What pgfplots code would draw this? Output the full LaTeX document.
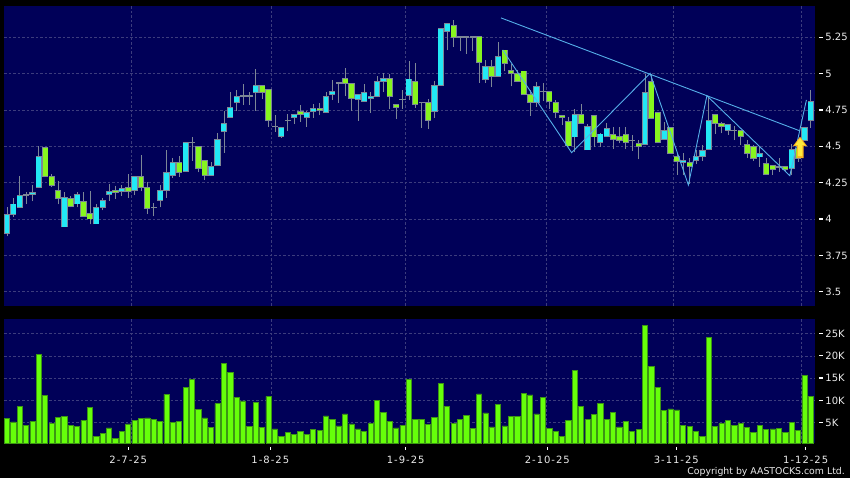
\documentclass[border=0pt]{standalone}
\usepackage{fontspec}
\setmainfont{DejaVu Sans}
\usepackage{pgfplots}
\usepackage{pgfplotstable}
\pgfplotsset{compat=1.18}
\definecolor{panel}{RGB}{0,0,88}
\definecolor{gridc}{RGB}{60,60,125}
\definecolor{upc}{RGB}{34,232,245}
\definecolor{dnc}{RGB}{135,245,30}
\definecolor{wick}{RGB}{125,135,150}
\definecolor{volc}{RGB}{102,255,10}
\definecolor{vold}{RGB}{60,150,20}
\definecolor{trend}{RGB}{85,175,232}
\definecolor{tickc}{RGB}{235,235,235}
\definecolor{arrowout}{RGB}{250,180,30}
\definecolor{arrowin}{RGB}{255,235,60}

% k: 0 up, 1 down, 2 doji; l low, b body bottom, t body top, h high
\pgfplotstableread{
i k l b t h
0 0 3.881 3.902 4.034 4.082
1 0 4.014 4.032 4.103 4.144
2 0 4.082 4.082 4.164 4.297
3 2 4.105 4.162 4.166 4.187
4 0 4.121 4.171 4.185 4.235
5 0 4.219 4.219 4.432 4.502
6 1 4.295 4.295 4.493 4.498
7 1 4.219 4.233 4.295 4.308
8 1 4.100 4.144 4.199 4.263
9 0 3.945 3.945 4.148 4.187
10 1 4.080 4.087 4.144 4.155
11 0 4.080 4.103 4.171 4.183
12 1 4.014 4.018 4.123 4.187
13 1 3.963 4.000 4.041 4.194
14 0 3.966 3.966 4.082 4.103
15 0 4.059 4.080 4.130 4.144
16 0 4.126 4.171 4.192 4.242
17 1 4.139 4.185 4.199 4.224
18 0 4.160 4.192 4.212 4.235
19 1 4.146 4.192 4.219 4.311
20 0 4.162 4.199 4.295 4.299
21 1 4.190 4.215 4.295 4.441
22 1 4.037 4.075 4.219 4.253
23 2 4.018 4.078 4.082 4.110
24 0 4.080 4.128 4.199 4.231
25 0 4.146 4.199 4.322 4.475
26 0 4.281 4.301 4.390 4.420
27 1 4.292 4.322 4.390 4.432
28 0 4.329 4.329 4.525 4.527
29 2 4.400 4.523 4.527 4.562
30 1 4.320 4.349 4.500 4.500
31 1 4.269 4.301 4.402 4.404
32 0 4.301 4.301 4.361 4.395
33 0 4.370 4.370 4.548 4.589
34 0 4.457 4.600 4.658 4.744
35 0 4.699 4.699 4.767 4.874
36 0 4.744 4.799 4.842 4.890
37 2 4.783 4.843 4.847 4.932
38 2 4.783 4.843 4.847 4.874
39 0 4.744 4.868 4.918 5.030
40 1 4.824 4.870 4.918 4.918
41 1 4.635 4.676 4.890 4.890
42 2 4.598 4.633 4.637 4.715
43 0 4.559 4.566 4.630 4.635
44 2 4.605 4.676 4.680 4.719
45 0 4.653 4.699 4.719 4.719
46 1 4.667 4.717 4.740 4.781
47 0 4.635 4.699 4.733 4.744
48 0 4.694 4.737 4.760 4.788
49 1 4.712 4.747 4.760 4.801
50 0 4.733 4.733 4.842 4.874
51 0 4.817 4.856 4.877 4.959
52 2 4.799 4.934 4.938 4.938
53 1 4.845 4.934 4.966 5.041
54 1 4.744 4.829 4.931 4.931
55 0 4.676 4.822 4.854 4.854
56 0 4.808 4.808 4.868 4.931
57 0 4.731 4.826 4.842 4.874
58 0 4.842 4.842 4.943 4.982
59 0 4.872 4.945 4.966 5.007
60 1 4.756 4.842 4.966 5.000
61 1 4.687 4.765 4.788 4.788
62 2 4.758 4.820 4.824 4.890
63 0 4.817 4.849 4.963 5.090
64 1 4.763 4.788 4.943 5.075
65 2 4.628 4.799 4.803 4.803
66 1 4.621 4.678 4.799 4.824
67 0 4.696 4.737 4.918 4.948
68 0 4.918 4.918 5.308 5.308
69 0 5.160 5.290 5.347 5.347
70 1 5.183 5.247 5.333 5.370
71 2 5.153 5.251 5.255 5.255
72 2 5.137 5.251 5.255 5.255
73 2 5.155 5.251 5.255 5.255
74 1 4.936 5.075 5.258 5.258
75 0 4.936 4.959 5.046 5.091
76 1 4.909 4.980 5.046 5.091
77 0 4.980 4.980 5.116 5.217
78 1 5.016 5.069 5.162 5.162
79 1 4.913 4.998 5.021 5.069
80 1 4.943 4.945 5.000 5.023
81 1 4.854 4.854 5.018 5.018
82 1 4.710 4.801 4.854 4.886
83 0 4.772 4.804 4.911 4.945
84 2 4.811 4.875 4.879 4.938
85 1 4.756 4.808 4.877 4.877
86 1 4.696 4.733 4.801 4.817
87 1 4.646 4.696 4.712 4.712
88 1 4.502 4.502 4.669 4.703
89 0 4.464 4.564 4.717 4.760
90 1 4.655 4.655 4.717 4.790
91 0 4.475 4.475 4.635 4.653
92 1 4.498 4.564 4.710 4.710
93 0 4.498 4.527 4.585 4.589
94 0 4.566 4.566 4.623 4.658
95 1 4.480 4.548 4.580 4.635
96 1 4.521 4.541 4.566 4.630
97 1 4.479 4.527 4.580 4.630
98 2 4.470 4.537 4.541 4.578
99 1 4.411 4.498 4.518 4.543
100 0 4.511 4.511 4.870 5.000
101 1 4.690 4.690 4.943 5.000
102 1 4.525 4.525 4.731 4.731
103 0 4.543 4.546 4.610 4.669
104 1 4.452 4.452 4.628 4.628
105 1 4.306 4.393 4.429 4.457
106 0 4.304 4.388 4.402 4.457
107 1 4.240 4.361 4.390 4.418
108 0 4.379 4.404 4.429 4.475
109 0 4.400 4.429 4.473 4.507
110 0 4.479 4.479 4.676 4.847
111 1 4.584 4.658 4.719 4.719
112 1 4.589 4.635 4.658 4.669
113 0 4.578 4.610 4.651 4.651
114 2 4.543 4.605 4.609 4.642
115 1 4.509 4.568 4.610 4.610
116 1 4.418 4.450 4.511 4.543
117 1 4.402 4.416 4.500 4.509
118 0 4.361 4.427 4.450 4.498
119 1 4.308 4.308 4.384 4.418
120 1 4.306 4.340 4.368 4.368
121 2 4.326 4.356 4.360 4.418
122 1 4.326 4.340 4.363 4.363
123 0 4.304 4.347 4.479 4.516
124 1 4.393 4.418 4.486 4.502
125 0 4.539 4.539 4.630 4.635
126 0 4.626 4.676 4.808 4.890
}\candles

\pgfplotsset{chartpanel/.style={
  scale only axis, width=810.7pt,
  anchor=south west,
  xmin=-0.47, xmax=126.6,
  axis background/.style={fill=panel},
  axis line style={draw=none},
  xtick={19.48,41.43,62.43,84.59,104.44,124.56},
  xticklabels={},
  xmajorgrids, ymajorgrids,
  major grid style={gridc,line width=0.7pt,dash pattern=on 2.5pt off 2pt},
  xtick style={draw=none},
  xtick pos=bottom,
  ytick pos=right,
  yticklabel pos=right,
  tick align=outside,
  major tick length=3pt,
  ytick style={draw=none},
  tick label style={font=\fontsize{10}{12}\selectfont,text=tickc},
  yticklabel style={anchor=west,xshift=4.2pt},
},
bodystyle/.style n args={2}{draw=none,no markers,forget plot,error bars/.cd,y dir=plus,y explicit,
  error mark=none,error bar style={line width=#1,draw=#2,solid}},
}

\begin{document}
\begin{tikzpicture}[x=1pt,y=1pt]
\fill[black] (0,0) rectangle (850,478);
\useasboundingbox (0,0) rectangle (850,478);

\begin{axis}[chartpanel, at={(4pt,172pt)}, height=300pt,
  ymin=3.402, ymax=5.465, unbounded coords=discard,
  ytick={3.5,3.75,4,4.25,4.5,4.75,5,5.25},
  yticklabels={3.5,3.75,4,4.25,4.5,4.75,5,5.25}]
% wicks, body outlines, then body fills
\addplot[bodystyle={0.8pt}{wick}] table[x=i,y=l,y error plus expr=\thisrow{h}-\thisrow{l}] {\candles};
\addplot[bodystyle={6.2pt}{wick}] table[x=i,y expr=\thisrow{b}-0.003,y error plus expr=\thisrow{t}-\thisrow{b}+0.006] {\candles};
\addplot[bodystyle={4.9pt}{upc}] table[x=i,y expr={\thisrow{k}==0 ? \thisrow{b}+0.003 : nan},y error plus expr=\thisrow{t}-\thisrow{b}-0.006] {\candles};
\addplot[bodystyle={4.9pt}{dnc}] table[x=i,y expr={\thisrow{k}==1 ? \thisrow{b}+0.003 : nan},y error plus expr=\thisrow{t}-\thisrow{b}-0.006] {\candles};
% trend lines
\addplot[trend,line width=0.9pt] coordinates {(77.43,5.383)(124.3,4.606)};
\addplot[trend,line width=0.9pt] coordinates {(77.7,5.163)(88.5,4.456)(100.8,5.002)(106.8,4.234)(109.7,4.848)(122.7,4.298)(125.3,4.819)};
% signal arrow
\addplot[fill=arrowout,draw=none] coordinates {(124.3,4.566)(123.2,4.502)(123.8,4.502)(123.8,4.418)(124.85,4.418)(124.85,4.502)(125.4,4.502)} --cycle;
\addplot[fill=arrowin,draw=none] coordinates {(124.3,4.556)(123.55,4.510)(123.97,4.510)(123.97,4.432)(124.68,4.432)(124.68,4.510)(125.05,4.510)} --cycle;
\end{axis}

\begin{axis}[chartpanel, at={(4pt,34.5pt)}, height=124.5pt,
  ymin=337, ymax=28312,
  scaled y ticks=false,
  ytick={5000,10000,15000,20000,25000},
  yticklabels={5K,10K,15K,20K,25K},
  extra x ticks={19.01,41.27,62.49,84.69,104.91,125.19},
  extra x tick labels={2-7-25,1-8-25,1-9-25,2-10-25,3-11-25,1-12-25},
  extra x tick style={grid=none,major tick length=2.5pt,
    xticklabel style={yshift=-7pt,font=\fontsize{10}{12}\selectfont\addfontfeature{LetterSpace=10}}}]
\addplot[ybar,bar width=5.2pt,fill=volc,draw=vold,line width=0.8pt] table[row sep=\\] {
x y\\
0 5920\\ 1 5170\\ 2 8610\\ 3 4490\\ 4 5320\\ 5 20370\\ 6 11160\\ 7 4790\\ 8 6220\\ 9 6440\\
10 4490\\ 11 4120\\ 12 5540\\ 13 8460\\ 14 2020\\ 15 2620\\ 16 3820\\ 17 1570\\ 18 3070\\ 19 4720\\
20 5540\\ 21 5920\\ 22 6070\\ 23 5840\\ 24 5240\\ 25 11390\\ 26 5020\\ 27 5390\\ 28 12960\\ 29 14760\\
30 8010\\ 31 6070\\ 32 3900\\ 33 9290\\ 34 18350\\ 35 16330\\ 36 10710\\ 37 9890\\ 38 4190\\ 39 9660\\
40 3970\\ 41 10940\\ 42 3600\\ 43 2020\\ 44 2850\\ 45 2470\\ 46 3000\\ 47 2320\\ 48 3520\\ 49 3220\\
50 6520\\ 51 5690\\ 52 4270\\ 53 6970\\ 54 4720\\ 55 3600\\ 56 3070\\ 57 4940\\ 58 10110\\ 59 7340\\
60 5390\\ 61 3820\\ 62 4420\\ 63 14760\\ 64 5690\\ 65 5690\\ 66 4570\\ 67 6220\\ 68 13930\\ 69 8610\\
70 4940\\ 71 5770\\ 72 6670\\ 73 3670\\ 74 11460\\ 75 7190\\ 76 4050\\ 77 9210\\ 78 4270\\ 79 6370\\
80 6370\\ 81 11610\\ 82 11240\\ 83 6970\\ 84 10640\\ 85 3750\\ 86 3070\\ 87 1950\\ 88 5540\\ 89 16700\\
90 8690\\ 91 5770\\ 92 6820\\ 93 9290\\ 94 5840\\ 95 7270\\ 96 4050\\ 97 5320\\ 98 3000\\ 99 3520\\
100 26960\\ 101 17750\\ 102 12960\\ 103 7720\\ 104 8090\\ 105 7870\\ 106 4420\\ 107 4190\\ 108 3070\\ 109 1950\\
110 24190\\ 111 4190\\ 112 4790\\ 113 5470\\ 114 4490\\ 115 4790\\ 116 3970\\ 117 2850\\ 118 4340\\ 119 3520\\
120 3600\\ 121 3750\\ 122 2850\\ 123 5020\\ 124 3300\\ 125 15580\\ 126 10940\\
};
\end{axis}

% detached tick dashes beside the panels
\foreach \py in {440.7,404.35,368,331.65,295.3,258.95,222.6,186.25,144.5,122.25,100,77.75,55.5}
  \fill[white] (818.5,\py-0.6) rectangle (822.5,\py+0.6);
\foreach \px in {128.3,270.3,405.7,547.3,676.3,805.7}
  \fill[white] (\px-0.6,28) rectangle (\px+0.6,31);

\node[anchor=base east,text=tickc,font=\fontsize{9.35}{12}\selectfont,inner sep=0pt] at (845,3) {Copyright by AASTOCKS.com Ltd.};
\end{tikzpicture}
\end{document}
